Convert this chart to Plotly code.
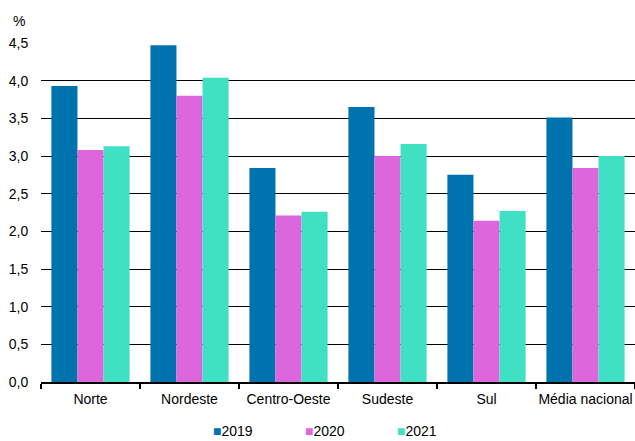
import plotly.graph_objects as go

# Regions and yearly rates (%)
regions = ["Norte", "Nordeste", "Centro-Oeste", "Sudeste", "Sul", "Média nacional"]
years = ["2019", "2020", "2021"]
values_2019 = [3.93, 4.47, 2.84, 3.65, 2.75, 3.51]
values_2020 = [3.08, 3.80, 2.21, 3.00, 2.14, 2.84]
values_2021 = [3.13, 4.04, 2.26, 3.16, 2.27, 3.00]
y_ticks = [0.0, 0.5, 1.0, 1.5, 2.0, 2.5, 3.0, 3.5, 4.0, 4.5]

colors = ["#0073AE", "#DD66DD", "#40E0C4"]
series = [values_2019, values_2020, values_2021]

FONT = "Liberation Sans, Arial, sans-serif"

fig = go.Figure()
for name, vals, col in zip(years, series, colors):
    fig.add_trace(go.Bar(
        x=regions, y=vals, name=name,
        marker=dict(color=col, line=dict(width=0)),
        showlegend=False,
    ))

# Compact legend row below the plot: colored square followed by the year
legend_px = [212, 304, 396]
plot_left, plot_w = 41, 594
for name, col, px in zip(years, colors, legend_px):
    fig.add_annotation(
        x=(px - plot_left) / plot_w, y=-0.172, xref="paper", yref="paper",
        xanchor="left", yanchor="bottom", showarrow=False, borderpad=0,
        text=f'<span style="color:{col}">■</span>{name}',
        font=dict(family=FONT, size=14, color="#000000"),
    )

# Unit label above the y axis
fig.add_annotation(
    x=-0.050, y=1.066, xref="paper", yref="paper", xanchor="left",
    yanchor="middle", showarrow=False, text="%",
    font=dict(family=FONT, size=14, color="#000000"),
)

fig.update_layout(
    width=635, height=441,
    margin=dict(l=41, r=0, t=43, b=59),
    paper_bgcolor="white", plot_bgcolor="white",
    barmode="group", bargap=0.21, bargroupgap=0,
    separators=", ",
    font=dict(family=FONT, size=14, color="#000000"),
    xaxis=dict(
        type="category", range=[-0.5, 5.5], automargin=False,
        tickangle=0, ticklabelstandoff=3,
        showline=True, linecolor="#000000", linewidth=2,
        ticks="outside", tickson="boundaries", ticklen=5,
        tickcolor="#000000", tickwidth=2,
        showgrid=False, fixedrange=True,
    ),
    yaxis=dict(
        range=[0, 4.5], tickvals=y_ticks, tickformat=".1f", automargin=False,
        showgrid=True, gridcolor="#000000", gridwidth=1,
        zeroline=False, showline=False,
        ticks="outside", ticklen=9, tickcolor="rgba(0,0,0,0)",
        fixedrange=True,
    ),
)

fig.write_html("out.html")
